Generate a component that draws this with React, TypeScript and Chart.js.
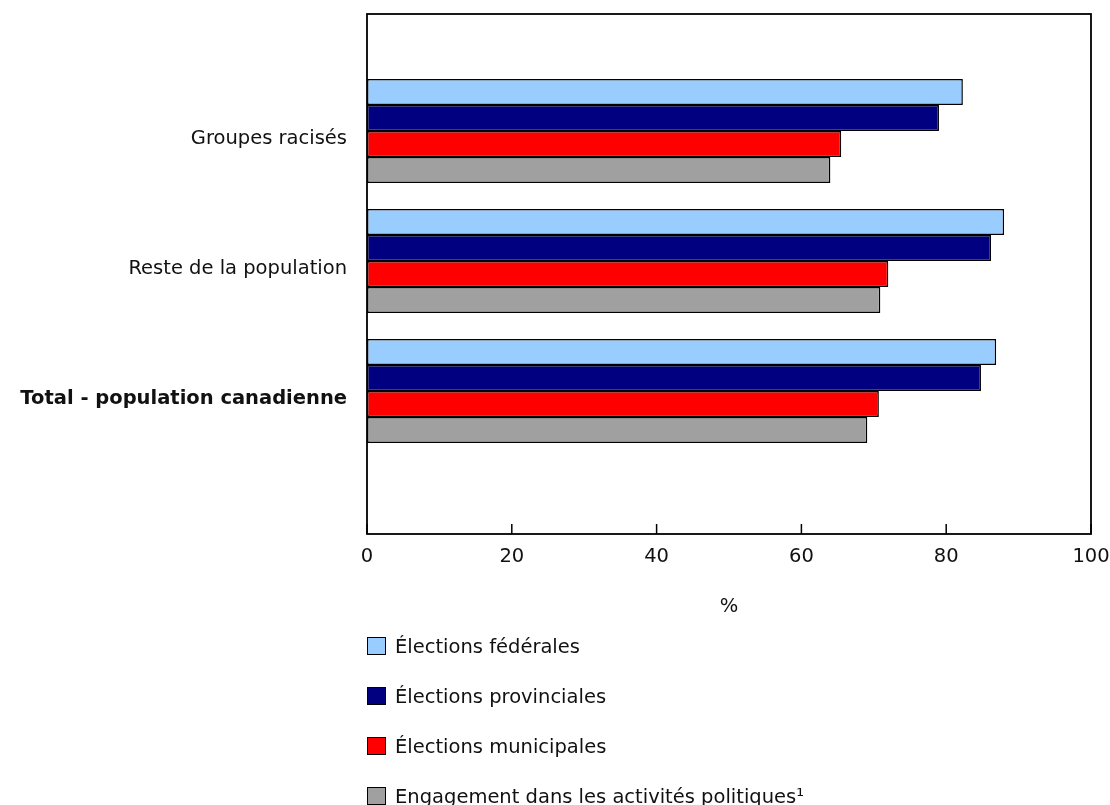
import { useEffect, useRef } from "react"
import { Chart, registerables } from "chart.js"

Chart.register(...registerables)

// Chart values
const categories = ["Groupes racisés", "Reste de la population", "Total - population canadienne"]
const seriesNames = [
    "Élections fédérales",
    "Élections provinciales",
    "Élections municipales",
    "Engagement dans les activités politiques¹",
]
const federal = [82.3, 88.0, 86.9]
const provincial = [79.0, 86.2, 84.8]
const municipal = [65.5, 72.0, 70.7]
const engagement = [64.0, 70.9, 69.1]
const xTicks = [0, 20, 40, 60, 80, 100]

const seriesValues = [federal, provincial, municipal, engagement]
const seriesColors = ["#99ccff", "#000080", "#ff0000", "#a0a0a0"]

const FONT = "'DejaVu Sans', Verdana, sans-serif"
const FONT_SIZE = 19.5
const TEXT = "#111"

// Draws the box around the plot and the inward tick marks of the x axis
const framePlugin = {
    id: "frame",
    afterDraw(chart: Chart) {
        const { ctx, chartArea: a } = chart
        const x = chart.scales.x
        ctx.save()
        ctx.strokeStyle = "#000"
        ctx.lineWidth = 1.8
        ctx.strokeRect(a.left, a.top, a.right - a.left, a.bottom - a.top)
        ctx.lineWidth = 1.5
        x.ticks.forEach((t) => {
            const px = x.getPixelForValue(t.value)
            ctx.beginPath()
            ctx.moveTo(px, a.bottom)
            ctx.lineTo(px, a.bottom - 10)
            ctx.stroke()
        })
        ctx.restore()
    },
}

function BarChart() {
    const chartRef = useRef<HTMLCanvasElement>(null)
    const chartInstance = useRef<Chart | null>(null)

    useEffect(() => {
        if (!chartRef.current) return
        if (chartInstance.current) chartInstance.current.destroy()
        const ctx = chartRef.current.getContext("2d")
        if (!ctx) return

        chartInstance.current = new Chart(ctx, {
            type: "bar",
            data: {
                datasets: seriesNames.map((name, s) => ({
                    label: name,
                    data: seriesValues[s].map((v, i) => ({ x: v, y: i })),
                    backgroundColor: seriesColors[s],
                    borderColor: "#000",
                    borderWidth: 1.5,
                    borderSkipped: false,
                    categoryPercentage: 0.8,
                    barPercentage: 1,
                })),
            },
            plugins: [framePlugin],
            options: {
                indexAxis: "y",
                animation: false,
                responsive: true,
                maintainAspectRatio: false,
                layout: { padding: { top: 14, right: 19, bottom: 0, left: 0 } },
                plugins: {
                    legend: { display: false },
                    tooltip: { enabled: false },
                },
                scales: {
                    x: {
                        type: "linear",
                        min: 0,
                        max: 100,
                        afterBuildTicks: (scale) => {
                            scale.ticks = xTicks.map((v) => ({ value: v }))
                        },
                        afterFit: (scale) => {
                            scale.height = 89
                            scale.paddingLeft = 0
                            scale.paddingRight = 0
                        },
                        grid: { display: false, drawTicks: false },
                        border: { display: false },
                        ticks: {
                            padding: 11,
                            color: TEXT,
                            font: { family: FONT, size: FONT_SIZE },
                        },
                        title: {
                            display: true,
                            text: "%",
                            color: TEXT,
                            font: { family: FONT, size: FONT_SIZE },
                            padding: { top: 28, bottom: 4 },
                        },
                    },
                    y: {
                        type: "linear",
                        reverse: true,
                        offset: false,
                        min: -0.9,
                        max: 3.1,
                        afterBuildTicks: (scale) => {
                            scale.ticks = categories.map((_, i) => ({ value: i }))
                        },
                        afterFit: (scale) => {
                            scale.width = 367
                            scale.paddingTop = 0
                            scale.paddingBottom = 0
                        },
                        grid: { display: false, drawTicks: false },
                        border: { display: false },
                        ticks: {
                            padding: 20,
                            labelOffset: 8,
                            color: TEXT,
                            callback: (v) => categories[Number(v)] ?? "",
                            font: (c) => ({
                                family: FONT,
                                size: FONT_SIZE,
                                weight: c.index === 2 ? "bold" : "normal",
                            }),
                        },
                    },
                },
            },
        })

        return () => {
            if (chartInstance.current) {
                chartInstance.current.destroy()
                chartInstance.current = null
            }
        }
    }, [])

    return (
        <div style={{ position: "relative", width: "1110px", height: "623px" }}>
            <canvas ref={chartRef}></canvas>
        </div>
    )
}

function Legend() {
    return (
        <div style={{ position: "absolute", left: "367px", top: "621px", fontFamily: FONT, fontSize: `${FONT_SIZE}px`, color: TEXT }}>
            {seriesNames.map((name, s) => (
                <div key={name} style={{ display: "flex", alignItems: "center", height: "50px" }}>
                    <span
                        style={{
                            display: "inline-block",
                            width: "17px",
                            height: "16px",
                            background: seriesColors[s],
                            border: "1.5px solid #000",
                            marginRight: "9px",
                        }}
                    />
                    <span style={{ whiteSpace: "nowrap" }}>{name}</span>
                </div>
            ))}
        </div>
    )
}

export default function App() {
    return (
        <div style={{ position: "absolute", left: 0, top: 0, width: "1110px", height: "805px", overflow: "hidden", background: "#fff" }}>
            <BarChart />
            <Legend />
        </div>
    )
}
